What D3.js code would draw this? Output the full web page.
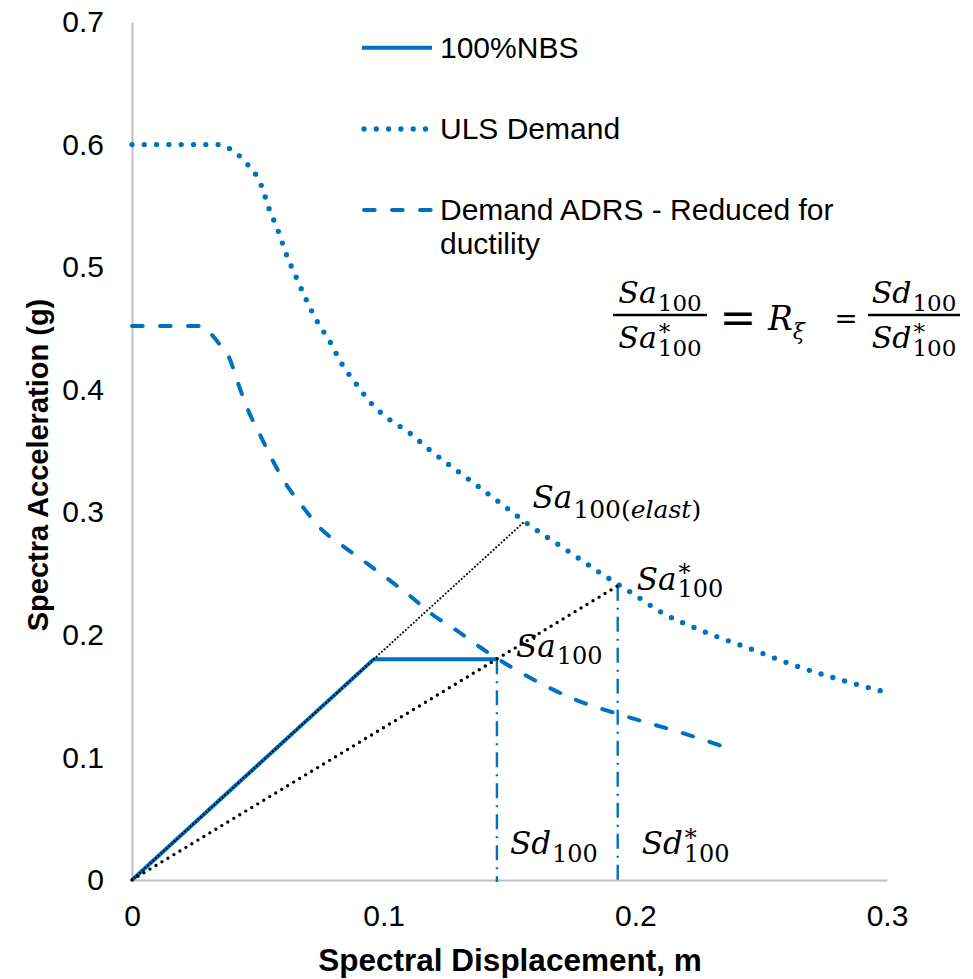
<!DOCTYPE html>
<html>
<head>
<meta charset="utf-8">
<script src="https://cdn.jsdelivr.net/npm/d3@7"></script>
<style>
  body { margin: 0; background: #fff; }
  svg { display: block; }
</style>
</head>
<body>
<svg id="chart" width="973" height="979"></svg>
<script>
// ---- Axis ticks ----
const xTicks = [0, 0.1, 0.2, 0.3];
const yTicks = [0, 0.1, 0.2, 0.3, 0.4, 0.5, 0.6, 0.7];

// ---- ULS demand spectrum (elastic), Sd [m] vs Sa [g] ----
const sdULS = [0, 0.0346, 0.0385, 0.0449, 0.0513, 0.0544, 0.0580, 0.0612, 0.0652, 0.0691,
               0.0735, 0.0787, 0.0834, 0.0890, 0.0950, 0.1021, 0.1101, 0.1176, 0.1331, 0.1486,
               0.1569, 0.1728, 0.1887, 0.2010, 0.2090, 0.2269, 0.2452, 0.2634, 0.2821, 0.3000];
const saULS = [0.600, 0.600, 0.597, 0.586, 0.567, 0.548, 0.530, 0.511, 0.492, 0.474,
               0.456, 0.439, 0.421, 0.405, 0.389, 0.376, 0.365, 0.352, 0.328, 0.304,
               0.291, 0.269, 0.247, 0.231, 0.220, 0.203, 0.189, 0.175, 0.163, 0.153];

// ---- Demand ADRS reduced for ductility ----
const sdDemand = [0, 0.0278, 0.0314, 0.0350, 0.0385, 0.0421, 0.0461, 0.0509, 0.0560, 0.0612,
                  0.0679, 0.0751, 0.0838, 0.0926, 0.1017, 0.1105, 0.1196, 0.1287, 0.1379, 0.1470,
                  0.1561, 0.1760, 0.1971, 0.2185, 0.2344];
const saDemand = [0.452, 0.452, 0.4455, 0.4365, 0.4267, 0.4055, 0.3835, 0.3631, 0.3418, 0.3231,
                  0.3043, 0.2864, 0.2725, 0.2594, 0.2456, 0.2317, 0.2162, 0.2040, 0.1905, 0.1783,
                  0.1673, 0.1473, 0.1330, 0.1200, 0.1093];

// ---- 100%NBS capacity curve ----
const sdNBS = [0, 0.096, 0.145];
const saNBS = [0, 0.18, 0.18];

// ---- Key points ----
const sd100 = 0.145, sa100 = 0.18;       // performance point
const sdStar = 0.193, saStar = 0.24;     // equivalent elastic point
const sdElast = 0.156, saElast = 0.2925; // elastic intersection

const legendLabels = ["100%NBS", "ULS Demand", "Demand ADRS - Reduced for", "ductility"];

// ---- Setup ----
const BLUE = "#0070C0";
const AXIS = "#BFBFBF";
const SANS = "'Liberation Sans', Arial, sans-serif";
const SERIF = "'DejaVu Serif', serif";

const svg = d3.select("#chart");
const x = d3.scaleLinear().domain([0, 0.3]).range([132, 887]);
const y = d3.scaleLinear().domain([0, 0.7]).range([880, 22]);
const fmt = d3.format("~g");

// ---- Axes ----
const gx = svg.append("g")
  .attr("transform", `translate(0,${y(0)})`)
  .call(d3.axisBottom(x).tickValues(xTicks).tickSize(0).tickPadding(25).tickFormat(fmt));
const gy = svg.append("g")
  .attr("transform", `translate(${x(0)},0)`)
  .call(d3.axisLeft(y).tickValues(yTicks).tickSize(0).tickPadding(28).tickFormat(fmt));
[gx, gy].forEach(g => {
  g.select(".domain").attr("stroke", AXIS).attr("stroke-width", 2);
  g.selectAll("text").attr("fill", "#000").style("font-family", SANS).style("font-size", "30px");
});

svg.append("text")
  .attr("x", 510).attr("y", 971)
  .attr("text-anchor", "middle")
  .style("font-family", SANS).style("font-size", "31.5px").style("font-weight", "bold")
  .text("Spectral Displacement, m");
svg.append("text")
  .attr("transform", "translate(48,465) rotate(-90)")
  .attr("text-anchor", "middle")
  .style("font-family", SANS).style("font-size", "29px").style("font-weight", "bold")
  .text("Spectra Acceleration (g)");

// ---- Line styles ----
const styles = {
  solid:   { stroke: BLUE, width: 4,   dash: null,        cap: "butt" },
  dotted:  { stroke: BLUE, width: 5.3, dash: "0 12.3",    cap: "round" },
  dashed:  { stroke: BLUE, width: 4,   dash: "10.7 17.3", cap: "round" },
  dashdot: { stroke: BLUE, width: 2.4, dash: "15 7 2 7",  cap: "butt" },
  fineDot: { stroke: "#000", width: 2.1, dash: "0 3.6",   cap: "round" },
  blackDot:{ stroke: "#000", width: 3.4, dash: "0 7",     cap: "round" }
};
function applyStyle(sel, s) {
  sel.attr("fill", "none").attr("stroke", s.stroke).attr("stroke-width", s.width)
     .attr("stroke-linecap", s.cap).attr("stroke-linejoin", "round");
  if (s.dash) sel.attr("stroke-dasharray", s.dash);
  return sel;
}

const curve = d3.line().x(d => x(d[0])).y(d => y(d[1])).curve(d3.curveMonotoneX);
const straight = d3.line().x(d => x(d[0])).y(d => y(d[1]));
const zip = (a, b) => a.map((v, i) => [v, b[i]]);

const plot = svg.append("g");

// vertical displacement markers
applyStyle(plot.append("path").attr("d", straight([[sd100, sa100], [sd100, 0]]) + "v2"), styles.dashdot);
applyStyle(plot.append("path").attr("d", straight([[sdStar, saStar], [sdStar, 0]])), styles.dashdot);

// demand curves
applyStyle(plot.append("path").attr("d", curve(zip(sdDemand, saDemand))), styles.dashed);
applyStyle(plot.append("path").attr("d", curve(zip(sdULS, saULS))), styles.dotted);

// capacity curve
applyStyle(plot.append("path").attr("d", straight(zip(sdNBS, saNBS))), styles.solid);

// secant guide lines from the origin
applyStyle(plot.append("path").attr("d", straight([[0, 0], [sdElast, saElast]])), styles.fineDot);
applyStyle(plot.append("path").attr("d", straight([[0, 0], [sdStar, saStar]])), styles.blackDot);

// ---- Legend ----
const legend = svg.append("g");
const legendRows = [
  { style: styles.solid,  ly: 47.7, ty: 57.5, text: [legendLabels[0]] },
  { style: styles.dotted, ly: 129,  ty: 138.5, text: [legendLabels[1]] },
  { style: styles.dashed, ly: 210,  ty: 219.5, text: [legendLabels[2], legendLabels[3]] }
];
legendRows.forEach(r => {
  applyStyle(legend.append("path").attr("d", `M${r.style.cap === "round" ? 364 : 362},${r.ly}H432`), r.style);
  r.text.forEach((t, i) => {
    legend.append("text").attr("x", 440).attr("y", r.ty + i * 34)
      .style("font-family", SANS).style("font-size", "30px").attr("fill", "#000").text(t);
  });
});

// ---- Math annotations (one text element per symbol, with sub/superscript tspans) ----
function mathLabel(parent, x0, yb, spec) {
  const size = spec.size || 31, subSize = spec.subSize || 24;
  const subDy = spec.subDy != null ? spec.subDy : 7.5;
  const starDy = -size * 0.27;
  const text = parent.append("text").attr("x", x0).attr("y", yb)
    .style("font-family", SERIF).style("font-size", size + "px");
  text.append("tspan").style("font-style", "italic").text(spec.base);
  const cx = x0 + text.node().getComputedTextLength() + 1;
  if (spec.star) {
    text.append("tspan").attr("x", cx + 1).attr("y", yb + starDy)
      .style("font-size", subSize + "px").text("*");
  }
  spec.sub.forEach((p, i) => {
    const t = text.append("tspan").attr("y", yb + subDy)
      .style("font-size", subSize + "px").style("font-style", p.it ? "italic" : "normal").text(p.t);
    if (i === 0) t.attr("x", cx);
  });
  if (spec.anchor === "middle") {
    const w = text.node().getBBox().width;
    text.attr("transform", `translate(${-w / 2},0)`);
  }
  return text;
}
const sub100 = [{ t: "100" }];
const ann = svg.append("g").attr("fill", "#000");

mathLabel(ann, x(sdElast) + 8, y(saElast) - 13.5,
  { base: "Sa", sub: [{ t: "100(" }, { t: "elast", it: true }, { t: ")" }], subDy: 10, subSize: 25 });
mathLabel(ann, x(sdStar) + 19, y(saStar) + 4, { base: "Sa", star: true, sub: sub100 });
mathLabel(ann, x(sd100) + 19, y(sa100) - 2.4, { base: "Sa", sub: sub100 });
mathLabel(ann, x(sd100) + 13, y(0) - 26, { base: "Sd", sub: sub100 });
mathLabel(ann, x(sdStar) + 24, y(0) - 26, { base: "Sd", star: true, sub: sub100 });

// ratio equation
const eq = svg.append("g").attr("fill", "#000");
const eqSpec = { size: 30, subSize: 23, anchor: "middle" };
function fraction(cx, x1, x2, num, den) {
  mathLabel(eq, cx, 303, Object.assign({}, eqSpec, num));
  mathLabel(eq, cx, 348, Object.assign({}, eqSpec, den));
  eq.append("line").attr("x1", x1).attr("x2", x2).attr("y1", 315).attr("y2", 315)
    .attr("stroke", "#000").attr("stroke-width", 2.5);
}
fraction(660, 613, 707, { base: "Sa", sub: sub100 }, { base: "Sa", star: true, sub: sub100 });
fraction(914, 868, 960, { base: "Sd", sub: sub100 }, { base: "Sd", star: true, sub: sub100 });
eq.append("text").attr("x", 738).attr("y", 333).attr("text-anchor", "middle")
  .style("font-family", SERIF).style("font-size", "44px").text("=");
const rx = eq.append("text").attr("x", 768).attr("y", 330)
  .style("font-family", SERIF).style("font-size", "33px");
rx.append("tspan").style("font-style", "italic").text("R");
rx.append("tspan").attr("y", 339).style("font-style", "italic").style("font-size", "22px").text("ξ");
eq.append("text").attr("x", 846).attr("y", 328).attr("text-anchor", "middle")
  .style("font-family", "'DejaVu Sans', sans-serif").style("font-size", "28px").text("=");
</script>
</body>
</html>
